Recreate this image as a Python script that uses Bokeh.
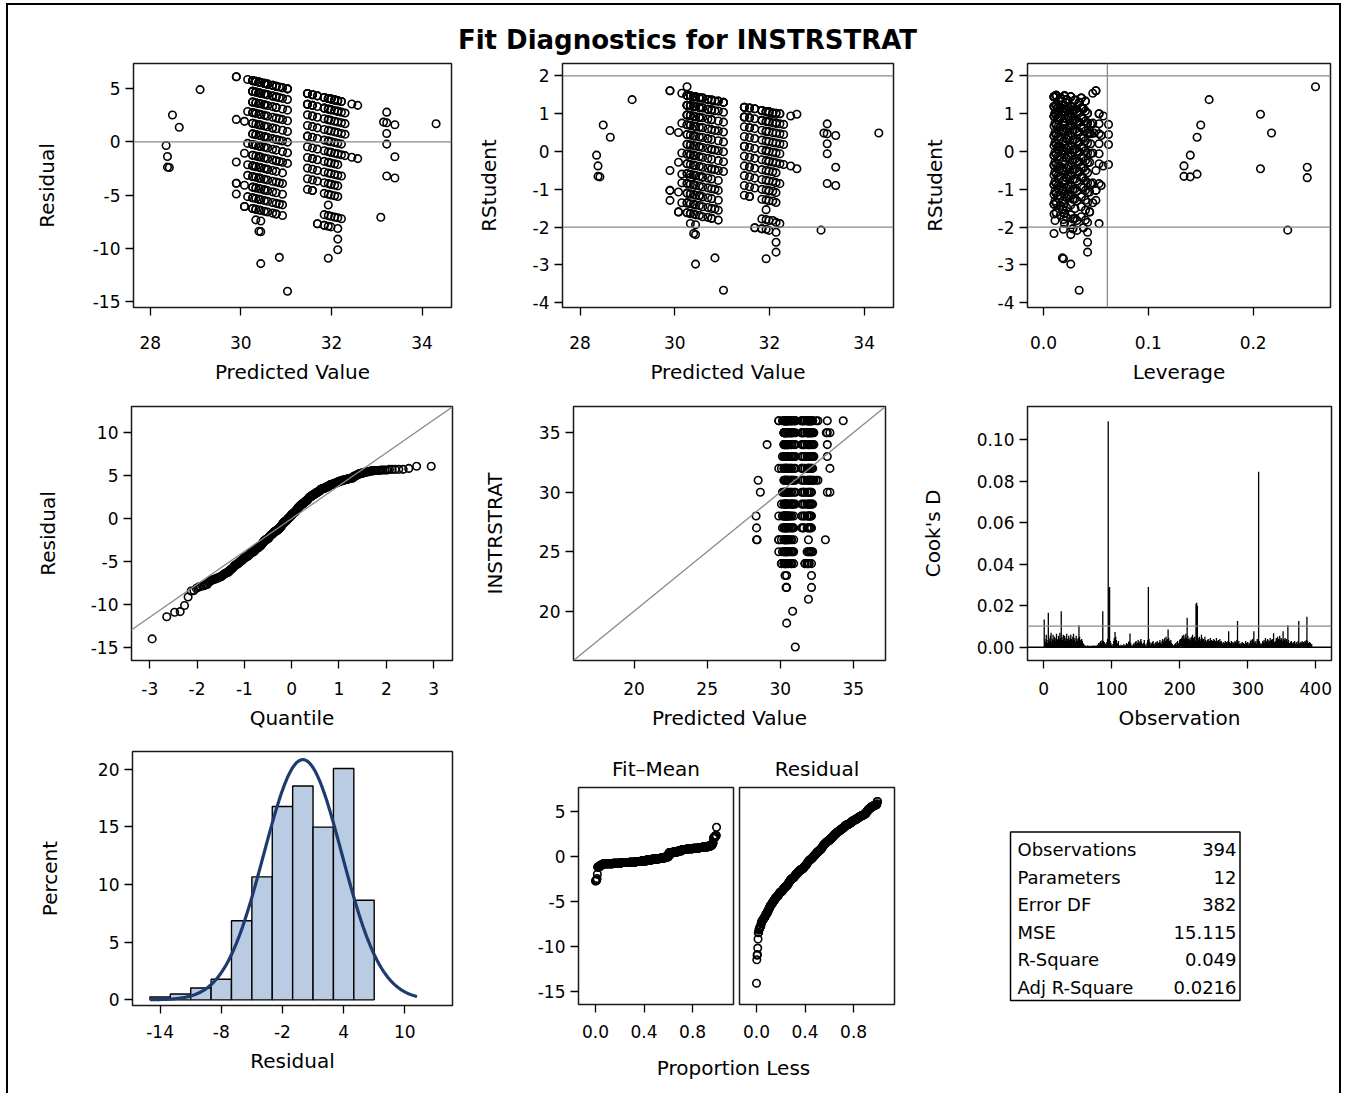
import numpy as np
from statistics import NormalDist
from bokeh.plotting import figure
from bokeh.layouts import row, column
from bokeh.models import Range1d, FixedTicker, PrintfTickFormatter, Span, Slope
from bokeh.embed import file_html
from bokeh.resources import INLINE
from bokeh.core.properties import value

# ---------------- data ----------------
TITLE = "Fit Diagnostics for INSTRSTRAT"
RESPONSE = "INSTRSTRAT"

N_OBS = 394
N_PARAM = 12
DFE = 382
MSE = 15.115

# columns of circles: predicted value, leverage, observed INSTRSTRAT values
GROUP_PRED = [28.35, 28.38, 28.42, 28.49, 28.64, 29.10, 29.90, 30.08, 30.15,
              30.26, 30.33, 30.40, 30.44, 30.52,
              30.59, 30.70, 30.78, 30.85, 30.92, 31.03,
              31.47, 31.58, 31.69,
              31.84, 31.93, 31.99, 32.07, 32.14, 32.22,
              32.30, 32.45, 32.58, 33.09, 33.15, 33.22, 33.40, 34.31]
GROUP_LEV = [0.140, 0.134, 0.140, 0.150, 0.1465, 0.158, 0.050, 0.044, 0.047,
             0.012, 0.020, 0.010, 0.026, 0.016,
             0.036, 0.022, 0.030, 0.018, 0.040, 0.034,
             0.014, 0.024, 0.038,
             0.028, 0.019, 0.032, 0.011, 0.042, 0.053,
             0.062, 0.057, 0.207, 0.233, 0.048, 0.045, 0.055, 0.2175]
GROUP_OBS = [
    "28", "27 26", "26", "31", "30", "34",
    "36 36 32 28 26 26 25",
    "32 29 26 24 24",
    "36 33 30 28 27 25",
    "36 36 36 36 36 35 35 35 35 34 34 34 33 33 32 32 31 31 30 30 29 29 28 28 27 27 26 26 25 25 24 24",
    "36 36 36 36 35 35 35 34 34 33 33 32 31 31 30 30 29 28 28 27 26 26 25 24 24 23",
    "36 36 36 36 35 35 35 34 34 34 33 32 32 31 30 30 29 29 28 27 27 26 25 25 24 22",
    "36 36 36 35 35 34 33 33 32 31 30 29 28 28 27 26 25 24 23 22 19",
    "36 36 36 35 35 34 34 34 33 32 31 31 30 29 28 27 26 26 25 24",
    "36 36 36 35 35 34 33 32 31 30 29 28 28 27 26 25 24",
    "36 36 36 35 35 35 34 33 32 32 31 30 29 28 27 26 25 24",
    "36 36 36 35 35 34 34 33 32 31 31 30 29 29 28 27 26 25 24 24",
    "36 35 33 31 29 27 25 20",
    "36 36 35 34 33 32 31 30 29 28 27 26 25 24",
    "36 36 36 35 34 33 32 31 30 29 17",
    "36 36 36 35 35 35 34 33 32 32 31 30 29 28 27",
    "36 36 36 35 35 34 34 33 32 31 30 30 29 28 27 27",
    "36 36 35 34 33 32 31 30 29 28 24 24",
    "36 36 36 35 35 35 34 33 32 31 30 29 28 27 25 24 24",
    "36 36 36 35 35 34 34 33 32 32 31 30 29 28 27 26 25 24 21",
    "36 36 36 36 35 35 35 34 33 32 31 31 30 29 28 28 27 25 24",
    "36 36 36 35 34 33 32 31 30 29 28 27 25",
    "36 36 35 35 35 34 33 32 31 30 29 28 27 25 24 23 22",
    "36 36 35 34 33 32 31 29 25",
    "35 34 33 31", "36 31", "36 31", "26", "35", "36 35 34 33 30", "35 32 30", "36",
]
# single points with their own leverage (predicted, observed, leverage)
LEV_OVERRIDE = [(30.26, 36, 0.2595), (33.40, 32, 0.2516), (30.33, 28, 0.2516), (30.15, 28, 0.1465)]

# Cook's D by observation number, in units of 0.0001
COOKS_D_E4 = """
134 40 25 60 35 20 166 45 30 55 70 25 40 60 35 50 45 30 65 40
35 55 40 70 45 174 50 35 60 40 55 30 45 65 40 30 55 35 45 60
40 30 50 65 35 45 25 55 40 30 45 106 50 35 25 40 30 20 15 10
5 8 4 6 10 5 3 7 5 4 8 6 5 10 4 6 8 5 12 6
20 15 25 30 20 35 174 30 25 20 15 10 25 40 1090 287 290 30 20 10
5 15 30 45 74 50 35 20 15 30 10 5 8 12 6 10 5 15 8 10
12 20 15 8 25 30 66 20 10 5 8 15 20 10 25 30 15 20 35 25
20 30 40 25 15 10 20 35 15 10 5 20 35 290 40 25 10 20 15 25
30 20 10 15 25 20 30 15 20 25 35 20 15 30 40 25 35 45 30 50
35 40 85 45 30 25 35 20 15 10 8 12 15 20 10 25 30 20 15 35
40 30 45 55 35 60 40 50 65 45 142 55 40 30 45 35 50 40 60 45
35 50 30 210 214 200 45 35 50 40 30 60 45 35 40 25 50 35 30 20
35 40 25 30 45 20 35 30 25 40 35 20 30 45 25 30 35 20 40 25
30 20 15 25 10 20 30 15 25 20 30 77 25 15 20 30 10 25 20 15
30 25 20 35 126 20 30 15 10 20 15 25 10 20 15 10 30 20 15 25
10 20 15 30 35 20 40 35 77 25 20 30 15 40 35 846 30 20 15 10
20 30 25 35 20 45 30 25 40 35 20 30 45 25 35 40 30 68 25 20
30 45 35 50 40 30 55 35 45 40 30 77 40 35 45 30 40 25 106 35
20 15 25 30 20 15 25 20 30 15 20 25 15 30 126 20 15 25 20 30
15 25 20 30 25 35 147 30 20 15 25 20 10 15
"""

# residual histogram: bin midpoints and percent of observations
HIST_MID = [-14, -12, -10, -8, -6, -4, -2, 0, 2, 4, 6]
HIST_PCT = [0.25, 0.51, 1.02, 1.78, 6.85, 10.66, 16.75, 18.53, 14.97, 20.05, 8.63]
HIST_BIN = 2.0

STAT_LABELS = ["Observations", "Parameters", "Error DF", "MSE", "R-Square", "Adj R-Square"]
STAT_VALUES = ["394", "12", "382", "15.115", "0.049", "0.0216"]

# ---------------- derived quantities ----------------
pred, obs, lev = [], [], []
for gp, gl, ys in zip(GROUP_PRED, GROUP_LEV, GROUP_OBS):
    for y in ys.split():
        pred.append(gp); obs.append(float(y)); lev.append(gl)
pred = np.array(pred); obs = np.array(obs); lev = np.array(lev)
for (op, oy, ol) in LEV_OVERRIDE:
    idx = np.where(np.isclose(pred, op) & (obs == oy))[0]
    if len(idx):
        lev[idx[0]] = ol
resid = obs - pred
S_ROOT = np.sqrt(MSE)
rstud = resid / (S_ROOT * np.sqrt(1.0 - lev))
n = len(resid)
res_sorted = np.sort(resid)
nd = NormalDist()
qq = np.array([nd.inv_cdf((i + 1 - 0.375) / (n + 0.25)) for i in range(n)])
prop_less = np.arange(n) / n
fit_mean = np.sort(pred - pred.mean())
SD_RES = np.sqrt(MSE * DFE / (N_OBS - 1))
cooks = np.array([int(v) for v in COOKS_D_E4.split()]) * 1e-4
obs_no = np.arange(1, len(cooks) + 1)
hist_mid = np.array(HIST_MID, float)
curve_x = np.linspace(-15.0, 11.2, 240)
curve_y = 100.0 * HIST_BIN * np.array([NormalDist(0.0, SD_RES).pdf(v) for v in curve_x])

# ---------------- styling helpers ----------------
FONT = "DejaVu Sans"
GRAY = "#8a8a8a"
TICK_FS = "17px"
LABEL_FS = "20px"


def make_fig(w, h, xr, yr, bl, bt, br, bb, xaxis=True, yaxis=True):
    kw = dict(width=w, height=h, x_range=Range1d(*xr), y_range=Range1d(*yr),
              min_border_left=bl, min_border_top=bt, min_border_right=br, min_border_bottom=bb,
              output_backend="svg", toolbar_location=None)
    if not xaxis:
        kw["x_axis_location"] = None
    if not yaxis:
        kw["y_axis_location"] = None
    p = figure(**kw)
    p.outline_line_color = "#1a1a1a"
    p.outline_line_width = 1.5
    p.grid.visible = False
    p.background_fill_color = "white"
    p.border_fill_color = "white"
    return p


def style_axis(ax, ticks, fmt, label, mls, als):
    ax.ticker = FixedTicker(ticks=ticks)
    ax.formatter = PrintfTickFormatter(format=fmt)
    if label:
        ax.axis_label = label
    ax.axis_line_color = None
    ax.major_tick_out = 8
    ax.major_tick_in = 0
    ax.minor_tick_line_color = None
    ax.major_tick_line_color = "black"
    ax.major_tick_line_width = 1.3
    ax.major_label_text_font = FONT
    ax.major_label_text_font_size = TICK_FS
    ax.major_label_text_color = "black"
    ax.major_label_standoff = mls
    ax.axis_label_text_font = FONT
    ax.axis_label_text_font_size = LABEL_FS
    ax.axis_label_text_font_style = "normal"
    ax.axis_label_text_color = "black"
    ax.axis_label_standoff = als


def circles(p, x, y):
    p.scatter(x, y, marker="circle", size=7.5, fill_color=None, line_color="black", line_width=1.6)


def hline(p, v, color=GRAY, width=1.3):
    p.add_layout(Span(location=v, dimension="width", line_color=color, line_width=width))


def vline(p, v, color=GRAY, width=1.3):
    p.add_layout(Span(location=v, dimension="height", line_color=color, line_width=width))


PV_TICKS = [28, 30, 32, 34]
RS_TICKS = [-4, -3, -2, -1, 0, 1, 2]

# ---------------- row 1 ----------------
H1 = 339
p1 = make_fig(462, H1, (27.63, 34.65), (-15.56, 7.35), 125, 6, 19, 89)
style_axis(p1.xaxis[0], PV_TICKS, "%d", "Predicted Value", 20, 8)
style_axis(p1.yaxis[0], [5, 0, -5, -10, -15], "%d", "Residual", 5, 31)
hline(p1, 0)
circles(p1, pred, resid)

p2 = make_fig(440, H1, (27.63, 34.62), (-4.13, 2.33), 92, 6, 17, 89)
style_axis(p2.xaxis[0], PV_TICKS, "%d", "Predicted Value", 20, 8)
style_axis(p2.yaxis[0], RS_TICKS, "%d", "RStudent", 5, 29)
hline(p2, 2); hline(p2, -2)
circles(p2, pred, rstud)

p3 = make_fig(429, H1, (-0.0153, 0.2738), (-4.13, 2.33), 117, 6, 9, 89)
style_axis(p3.xaxis[0], [0.0, 0.1, 0.2], "%.1f", "Leverage", 20, 8)
style_axis(p3.yaxis[0], RS_TICKS, "%d", "RStudent", 5, 48)
hline(p3, 2); hline(p3, -2); vline(p3, 2.0 * N_PARAM / N_OBS)
circles(p3, lev, rstud)

# ---------------- row 2 ----------------
H2 = 344
p4 = make_fig(462, H2, (-3.387, 3.40), (-16.55, 13.07), 123, 10, 18, 80)
style_axis(p4.xaxis[0], [-3, -2, -1, 0, 1, 2, 3], "%d", "Quantile", 13, 8)
style_axis(p4.yaxis[0], [10, 5, 0, -5, -10, -15], "%d", "Residual", 5, 28)
p4.add_layout(Slope(gradient=SD_RES, y_intercept=0.0, line_color=GRAY, line_width=1.3))
circles(p4, qq, res_sorted)

p5 = make_fig(440, H2, (15.86, 37.2), (15.86, 37.2), 103, 10, 25, 80)
style_axis(p5.xaxis[0], [20, 25, 30, 35], "%d", "Predicted Value", 13, 8)
style_axis(p5.yaxis[0], [20, 25, 30, 35], "%d", RESPONSE, 5, 29)
p5.add_layout(Slope(gradient=1.0, y_intercept=0.0, line_color=GRAY, line_width=1.3))
circles(p5, pred, obs)

p6 = make_fig(429, H2, (-23.6, 423.1), (-0.0064, 0.1161), 117, 10, 8, 80)
style_axis(p6.xaxis[0], [0, 100, 200, 300, 400], "%d", "Observation", 13, 8)
style_axis(p6.yaxis[0], [0.0, 0.02, 0.04, 0.06, 0.08, 0.10], "%.2f", "Cook's D", 5, 29)
p6.segment(x0=obs_no, y0=0, x1=obs_no, y1=cooks, line_color="black", line_width=1.3)
hline(p6, 4.0 / N_OBS)
hline(p6, 0.0, color="black", width=1.5)

# ---------------- row 3 ----------------
H3 = 353
p7 = make_fig(462, H3, (-16.71, 14.68), (-0.49, 21.52), 124, 11, 18, 88)
style_axis(p7.xaxis[0], [-14, -8, -2, 4, 10], "%d", "Residual", 11, 8)
style_axis(p7.yaxis[0], [0, 5, 10, 15, 20], "%d", "Percent", 5, 33)
p7.quad(left=hist_mid - HIST_BIN / 2, right=hist_mid + HIST_BIN / 2, bottom=0, top=HIST_PCT,
        fill_color="#b9cce4", line_color="black", line_width=1.4)
p7.line(curve_x, curve_y, line_color="#1f3b6d", line_width=3.2)

Y8 = (-16.39, 7.65)
X8 = (-0.14, 1.137)
p8a = make_fig(266, 312, X8, Y8, 108, 47, 3, 48)
style_axis(p8a.xaxis[0], [0.0, 0.4, 0.8], "%.1f", "", 12, 7)
style_axis(p8a.yaxis[0], [5, 0, -5, -10, -15], "%d", "", 5, 7)
p8a.title.text = "Fit\u2013Mean"
p8b = make_fig(174, 312, X8, Y8, 3, 47, 16, 48, yaxis=False)
style_axis(p8b.xaxis[0], [0.0, 0.4, 0.8], "%.1f", "", 12, 7)
p8b.title.text = "Residual"
for pp in (p8a, p8b):
    pp.title.align = "center"
    pp.title.text_font = FONT
    pp.title.text_font_size = "20px"
    pp.title.text_font_style = "normal"
    pp.title.text_color = "black"
    pp.title.standoff = 14
circles(p8a, prop_less, fit_mean)
circles(p8b, prop_less, res_sorted)

plab = figure(width=440, height=41, x_range=Range1d(0, 440), y_range=Range1d(41, 0),
              x_axis_location=None, y_axis_location=None, output_backend="svg",
              toolbar_location=None, min_border=0)
plab.outline_line_color = None
plab.grid.visible = False
plab.text(x=[263], y=[15], text=["Proportion Less"], text_font=value(FONT),
          text_font_size="20px", text_align="center", text_baseline="middle", text_color="black")

# fit statistics table (frame aligned with the histogram's frame: 11 px from top, 254 px tall)
p9 = figure(width=429, height=H3, x_range=Range1d(0, 429), y_range=Range1d(265, 11),
            x_axis_location=None, y_axis_location=None, output_backend="svg",
            toolbar_location=None, min_border_left=0, min_border_right=0,
            min_border_top=11, min_border_bottom=88)
p9.outline_line_color = None
p9.grid.visible = False
p9.quad(left=[100], right=[329.5], top=[91.5], bottom=[260], fill_color=None,
        line_color="black", line_width=1.5)
row_y = [109 + 27.5 * i for i in range(len(STAT_LABELS))]
p9.text(x=[107] * len(STAT_LABELS), y=row_y, text=STAT_LABELS, text_font=value(FONT),
        text_font_size="18px", text_align="left", text_baseline="middle", text_color="black")
p9.text(x=[326] * len(STAT_VALUES), y=row_y, text=STAT_VALUES, text_font=value(FONT),
        text_font_size="18px", text_align="right", text_baseline="middle", text_color="black")

# ---------------- title ----------------
pt = figure(width=1331, height=52, x_range=Range1d(0, 1331), y_range=Range1d(52, 0),
            x_axis_location=None, y_axis_location=None, output_backend="svg",
            toolbar_location=None, min_border=0)
pt.outline_line_color = None
pt.grid.visible = False
pt.text(x=[679], y=[34], text=[TITLE], text_font=value(FONT), text_font_size="26px",
        text_font_style="bold", text_align="center", text_baseline="middle", text_color="black")

row1 = row(p1, p2, p3)
row2 = row(p4, p5, p6)
col8 = column(row(p8a, p8b), plab)
row3 = row(p7, col8, p9)
root = column(pt, row1, row2, row3, margin=(3, 0, 0, 6),
              styles={"border-top": "2px solid black", "border-left": "2px solid black",
                      "border-right": "2px solid black"})

open("out.html", "w").write(file_html(root, INLINE))
